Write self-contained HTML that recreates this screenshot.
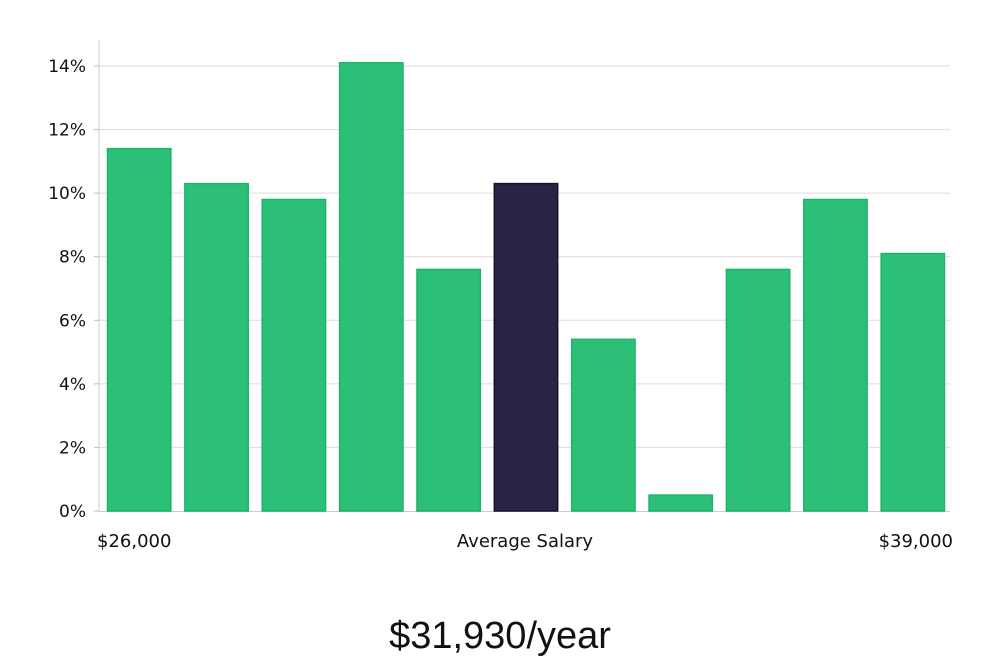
<!DOCTYPE html>
<html><head><meta charset="utf-8"><style>
html,body{margin:0;padding:0;background:#fff;}
body{width:1000px;height:660px;overflow:hidden;font-family:"DejaVu Sans","Liberation Sans",sans-serif;}
</style></head><body>
<svg id="chart" width="1000" height="660" xmlns="http://www.w3.org/2000/svg"></svg>
<script>
const categories = ["b1","b2","b3","b4","b5","b6","b7","b8","b9","b10","b11"];
const values = [11.4,10.3,9.8,14.1,7.6,10.3,5.4,0.5,7.6,9.8,8.1];
const highlightIndex = 5;
const yTicks = [0,2,4,6,8,10,12,14];
const yTickLabels = ["0%","2%","4%","6%","8%","10%","12%","14%"];
const xLabels = ["$26,000","Average Salary","$39,000"];
const salaryText = "$31,930/year";

const svg = document.getElementById('chart');
const NS = 'http://www.w3.org/2000/svg';
const plotLeft = 99, plotRight = 950, plotTop = 40, plotBottom = 511;
const yScale = v => plotBottom - v * (511 - 66) / 14;
const step = (plotRight - plotLeft) / categories.length;
const xScale = i => plotLeft + i * step;
function mk(tag, attrs){const e=document.createElementNS(NS,tag);for(const k in attrs)e.setAttribute(k,attrs[k]);svg.appendChild(e);return e;}

yTicks.forEach((t,i)=>{
  const y=yScale(t);
  if(t>0){
    const g=mk('line',{x1:plotLeft,x2:plotRight,y1:y,y2:y,stroke:'#dcdcdc','stroke-width':1});
    
    
  }
  const tk=mk('line',{x1:plotLeft-5,x2:plotLeft,y1:y,y2:y,stroke:'#bbb','stroke-width':1});
  
  
  const lb=mk('text',{x:plotLeft-13,y:y+6,'text-anchor':'end','font-size':17,fill:'#111'});
  lb.textContent=yTickLabels[i];
  
  
});
const ax=mk('line',{x1:plotLeft,x2:plotLeft,y1:plotTop,y2:plotBottom,stroke:'#ccc','stroke-width':1});


const xa=mk('line',{x1:plotLeft,x2:plotRight,y1:plotBottom+0.5,y2:plotBottom+0.5,stroke:'#ccc','stroke-width':1});



values.forEach((v,i)=>{
  const hi=i===highlightIndex;
  const x=xScale(i)+8.5, w=step-14;
  const r=mk('rect',{x:x,y:yScale(v),width:w,height:plotBottom-yScale(v),fill:hi?'#272445':'#2bbf77',stroke:hi?'#15132b':'#1fb26a','stroke-width':1.5});
  
  
});

const xl=[{x:97,a:'start'},{x:525,a:'middle'},{x:953,a:'end'}];
xLabels.forEach((t,i)=>{
  const e=mk('text',{x:xl[i].x,y:547,'text-anchor':xl[i].a,'font-size':18,fill:'#111'});
  e.textContent=t;
  
  
});
const s=mk('text',{x:500,y:648,'text-anchor':'middle','font-size':38,fill:'#111','font-family':'Liberation Sans, sans-serif'});
s.textContent=salaryText;


</script>
</body></html>
